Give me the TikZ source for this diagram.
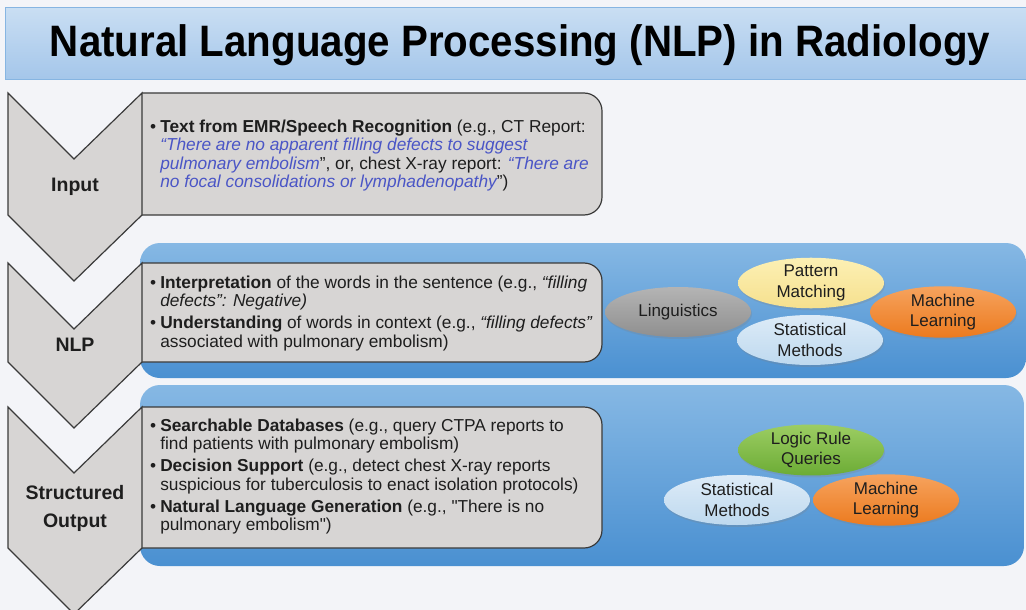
\documentclass[tikz,border=0pt]{standalone}
\usepackage{fontspec}
\setmainfont{Liberation Sans}
\usepackage{array}
\usetikzlibrary{shapes.geometric,shadows}

\definecolor{pagebg}{HTML}{F3F4F8}
\definecolor{titletop}{HTML}{C9DEF3}
\definecolor{titlebot}{HTML}{A4C6EA}
\definecolor{titleline}{HTML}{86B5E2}
\definecolor{chevgray}{HTML}{D7D5D4}
\definecolor{edgegray}{HTML}{3A3A3A}
\definecolor{bandtop}{HTML}{86B8E4}
\definecolor{bandbot}{HTML}{4A90D1}
\definecolor{quoteblue}{HTML}{4A55C6}
\definecolor{txt}{HTML}{1E1E1E}
\definecolor{lingtop}{HTML}{B4B4B4}
\definecolor{lingbot}{HTML}{8F8F8F}
\definecolor{pattop}{HTML}{FCF0B4}
\definecolor{patbot}{HTML}{F6E08E}
\definecolor{stattop}{HTML}{DDEBF7}
\definecolor{statbot}{HTML}{BED9EF}
\definecolor{mltop}{HTML}{F6A35E}
\definecolor{mlbot}{HTML}{EC7A1E}
\definecolor{logictop}{HTML}{9CCD63}
\definecolor{logicbot}{HTML}{6CAC35}

\newcommand{\bq}[1]{\textcolor{quoteblue}{\itshape #1}}

\tikzset{
	chevron/.style={fill=chevgray,draw=edgegray,line width=1.2pt,line join=miter},
	textbox/.style={fill=chevgray,draw=edgegray,line width=1.2pt,rounded corners=18pt},
	band/.style={top color=bandtop,bottom color=bandbot,draw=none,rounded corners=20pt},
	stagelabel/.style={font=\fontsize{19.5}{28}\selectfont\bfseries,text=txt,align=center},
	boxtext/.style={anchor=north west,inner sep=0pt,font=\fontsize{17.3}{18.5}\selectfont,text=txt},
	blob/.style={ellipse,minimum width=146pt,minimum height=50pt,inner sep=0pt,align=center,
		font=\fontsize{17}{20.5}\selectfont,text=txt,
		drop shadow={shadow xshift=1pt,shadow yshift=-2pt,opacity=0.25}}
}

\begin{document}
\begin{tikzpicture}[x=1pt,y=-1pt]
	\useasboundingbox (0,0) rectangle (1026,610);
	\clip (0,0) rectangle (1026,610);
	\fill[pagebg] (0,0) rectangle (1026,610);

	% title bar
	\draw[top color=titletop,bottom color=titlebot,draw=titleline,line width=1pt] (5,8) rectangle (1030,80);
	\node (title) at (520,45) {\fontsize{44}{48}\selectfont\bfseries
		\resizebox{940pt}{\height}{Natural Language Processing (NLP) in Radiology}};

	% blue bands behind the NLP and output boxes
	\draw[band] (140,243) rectangle (1026,378);
	\draw[band] (140,385) rectangle (1024,566);

	% grey text boxes
	\draw[textbox] (142,93) -- (602,93) -- (602,215) -- (142,215);
	\draw[textbox] (142,263) -- (602,263) -- (602,362) -- (142,362);
	\draw[textbox] (142,407) -- (602,407) -- (602,548) -- (142,548);

	% chevrons
	\draw[chevron] (8,93) -- (74,159) -- (142,93) -- (142,215) -- (74,281) -- (8,215) -- cycle;
	\draw[chevron] (8,263) -- (74,329) -- (142,263) -- (142,362) -- (74,428) -- (8,362) -- cycle;
	\draw[chevron] (8,407) -- (74,473) -- (142,407) -- (142,548) -- (74,614) -- (8,548) -- cycle;

	\node[stagelabel] (input) at (75,187) {Input};
	\node[stagelabel] (nlp) at (75,345) {NLP};
	\node[stagelabel] (output) at (75,508) {Structured\\Output};

	\node[boxtext] (inputtext) at (150,119) {%
		\begin{tabular}{@{}l@{\hspace{4pt}}l@{}}
		\textbullet & \textbf{Text from EMR/Speech Recognition} (e.g., CT Report:\\
		& \bq{“There are no apparent filling defects to suggest}\\
		& \bq{pulmonary embolism}”, or, chest X-ray report: \bq{“There are}\\
		& \bq{no focal consolidations or lymphadenopathy}”)
		\end{tabular}};

	\node[boxtext] (nlptext) at (150,275) {%
		\begin{tabular}{@{}l@{\hspace{4pt}}l@{}}
		\textbullet & \textbf{Interpretation} of the words in the sentence (e.g., \textit{“filling}\\
		& \textit{defects”: Negative)}\\[3.5pt]
		\textbullet & \textbf{Understanding} of words in context (e.g., \textit{“filling defects”}\\
		& associated with pulmonary embolism)
		\end{tabular}};

	\node[boxtext] (outputtext) at (150,418) {%
		\begin{tabular}{@{}l@{\hspace{4pt}}l@{}}
		\textbullet & \textbf{Searchable Databases} (e.g., query CTPA reports to\\
		& find patients with pulmonary embolism)\\[3.5pt]
		\textbullet & \textbf{Decision Support} (e.g., detect chest X-ray reports\\
		& suspicious for tuberculosis to enact isolation protocols)\\[3.5pt]
		\textbullet & \textbf{Natural Language Generation} (e.g., \textquotedbl There is no\\
		& pulmonary embolism\textquotedbl)
		\end{tabular}};

	% methods used in NLP
	\node[blob,top color=lingtop,bottom color=lingbot] (ling) at (678,312) {Linguistics};
	\node[blob,top color=pattop,bottom color=patbot] (pattern) at (811,283) {Pattern\\Matching};
	\node[blob,top color=stattop,bottom color=statbot] (stat) at (810,340) {Statistical\\Methods};
	\node[blob,top color=mltop,bottom color=mlbot] (ml) at (943,312) {Machine\\Learning};

	% methods used for the output
	\node[blob,top color=logictop,bottom color=logicbot] (logic) at (811,450) {Logic Rule\\Queries};
	\node[blob,top color=stattop,bottom color=statbot] (stat2) at (737,500) {Statistical\\Methods};
	\node[blob,top color=mltop,bottom color=mlbot] (ml2) at (886,500) {Machine\\Learning};
\end{tikzpicture}
\end{document}
